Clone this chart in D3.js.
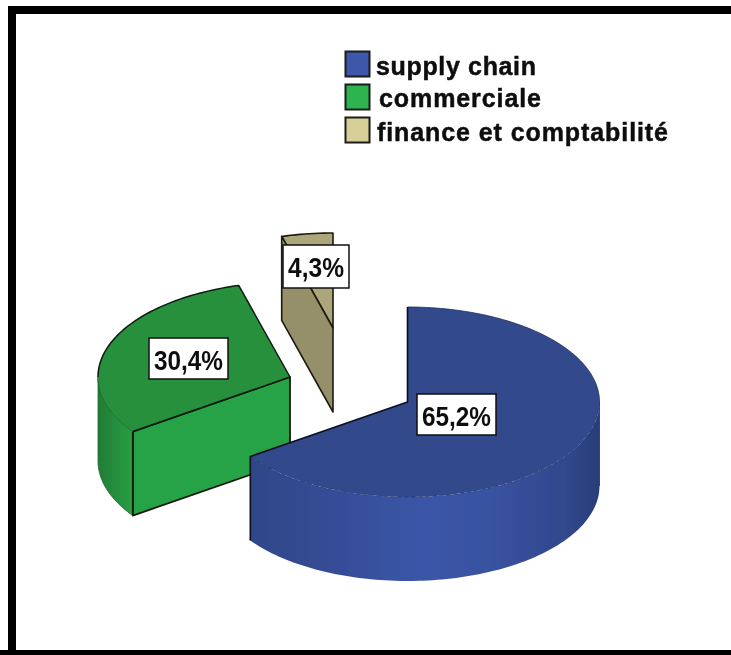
<!DOCTYPE html>
<html><head><meta charset="utf-8">
<script src="https://cdn.jsdelivr.net/npm/d3@7"></script>
<style>html,body{margin:0;padding:0;background:#fff;overflow:hidden}svg{display:block}</style>
</head><body><svg id="c" width="731" height="655"></svg>
<script>
const categories = ["supply chain", "commerciale", "finance et comptabilité"];
const values = [65.2, 30.4, 4.3];
const labels = ["65,2%", "30,4%", "4,3%"];

const topColors = ["#32498c", "#27903d", "#aca67a"];
const wallColors = ["#3a55a5", "#28a246", "#96906b"];
const swatchColors = ["#3d59ab", "#2eb44f", "#d6cf97"];

const RX = 192, RY = 95, DEPTH = 84;
const centers = [[407.5, 402], [290, 377], [333, 328]];
const labelBoxes = [[417, 394, 79, 41], [149, 338, 79, 41], [283, 245, 66, 43]];
const legendY = [51, 84, 117];
const legendBase = [75, 107, 141];
const legendTextX = [376, 379, 377];
const legendLen = [160, 162, 291];

const svg = d3.select("#c");
const defs = svg.append("defs");
const blur = defs.append("filter").attr("id", "soft")
  .attr("x", "-5%").attr("y", "-5%").attr("width", "110%").attr("height", "110%");
blur.append("feGaussianBlur").attr("stdDeviation", 0.45);

function grad(id, x1, x2, stops) {
  const g = defs.append("linearGradient").attr("id", id)
    .attr("gradientUnits", "userSpaceOnUse")
    .attr("x1", x1).attr("x2", x2).attr("y1", 0).attr("y2", 0);
  stops.forEach(s => g.append("stop").attr("offset", s[0]).attr("stop-color", s[1]));
}
grad("wall0", 251, 600, [[0, "#2f4689"], [0.12, "#33498f"], [0.5, "#3b56a8"], [0.72, "#38519e"], [0.9, "#31488c"], [1, "#293d78"]]);
grad("wall1", 98, 134, [[0, "#1f7c35"], [0.6, "#27923f"], [1, "#2a9f45"]]);

const root = svg.append("g").attr("filter", "url(#soft)");

// frame
root.append("path").attr("fill", "none").attr("stroke", "#000").attr("stroke-width", 8)
  .attr("d", "M12,660V10H740M0,654H740");

const pie = d3.pie().sort(null).startAngle(0).endAngle(2 * Math.PI);
const arcs = pie(values);
const sx = d3.scaleLinear().domain([-1, 1]).range([-RX, RX]);
const sy = d3.scaleLinear().domain([-1, 1]).range([-RY, RY]);

function pt(i, a, dz = 0) {
  const c = centers[i];
  return [c[0] + sx(Math.sin(a)), c[1] - sy(Math.cos(a)) + dz];
}
function arcPts(i, a0, a1, dz = 0) {
  const n = Math.max(2, Math.ceil(Math.abs(a1 - a0) * 40));
  return d3.range(n + 1).map(k => pt(i, a0 + (a1 - a0) * k / n, dz));
}
const line = d3.line();
const poly = pts => line(pts) + "Z";

const HALF_R = Math.PI / 2, HALF_L = 3 * Math.PI / 2;
function wall(i, d) {
  const a0 = Math.max(d.startAngle, HALF_R), a1 = Math.min(d.endAngle, HALF_L);
  if (a1 <= a0) return null;
  return poly(arcPts(i, a0, a1).concat(arcPts(i, a1, a0, DEPTH)));
}
function topFace(i, d) {
  return poly([centers[i]].concat(arcPts(i, d.startAngle, d.endAngle)));
}
function cutFace(i, a) {
  const c = centers[i], p = pt(i, a);
  return poly([c, p, [p[0], p[1] + DEPTH], [c[0], c[1] + DEPTH]]);
}

const EDGE = "#101a10";
(function () {
  const i = 2, d = arcs[i];
  root.append("path").attr("d", topFace(i, d)).attr("fill", topColors[i])
    .attr("stroke", "#1c1a10").attr("stroke-width", 1.6).attr("stroke-linejoin", "round");
  root.append("path").attr("d", cutFace(i, d.startAngle)).attr("fill", wallColors[i])
    .attr("stroke", "#1c1a10").attr("stroke-width", 1.6).attr("stroke-linejoin", "round");
})();

(function () {
  const i = 1, d = arcs[i];
  root.append("path").attr("d", cutFace(i, d.startAngle)).attr("fill", wallColors[i])
    .attr("stroke", EDGE).attr("stroke-width", 1.8).attr("stroke-linejoin", "round");
  root.append("path").attr("d", wall(i, d)).attr("fill", "url(#wall1)")
    .attr("stroke", "#1c6a30").attr("stroke-width", 0.8);
  const p = pt(i, d.startAngle);
  root.append("path").attr("d", line([p, [p[0], p[1] + DEPTH]]))
    .attr("stroke", "#0c1a10").attr("stroke-width", 1.8).attr("fill", "none");
  root.append("path").attr("d", topFace(i, d)).attr("fill", topColors[i])
    .attr("stroke", "none");
  root.append("path")
    .attr("d", line(arcPts(i, d.startAngle, HALF_L)))
    .attr("fill", "none").attr("stroke", "#1a6a30").attr("stroke-width", 0.8);
  root.append("path")
    .attr("d", line(arcPts(i, HALF_L, d.endAngle).concat([centers[i], pt(i, d.startAngle)])))
    .attr("fill", "none").attr("stroke", EDGE).attr("stroke-width", 1.5).attr("stroke-linejoin", "round");
})();

(function () {
  const i = 0, d = arcs[i];
  root.append("path").attr("d", wall(i, d)).attr("fill", "url(#wall0)").attr("stroke", "none");
  root.append("path").attr("d", topFace(i, d)).attr("fill", topColors[i]).attr("stroke", "none");
  root.append("path").attr("d", line(arcPts(i, HALF_R, d.endAngle)))
    .attr("fill", "none").attr("stroke", "#1c2c60").attr("stroke-width", 0.7)
    .attr("stroke-dasharray", "4 3").attr("stroke-opacity", 0.7);
  root.append("path").attr("d", line(arcPts(i, 0, HALF_R)))
    .attr("fill", "none").attr("stroke", "#1c2c60").attr("stroke-width", 0.8);
  const p = pt(i, d.endAngle);
  root.append("path").attr("d", line([pt(i, 0), centers[i], p, [p[0], p[1] + DEPTH]]))
    .attr("fill", "none").attr("stroke", "#0a1020").attr("stroke-width", 1.6).attr("stroke-linejoin", "round");
  const r = pt(i, HALF_R);
  root.append("path").attr("d", line([r, [r[0], r[1] + DEPTH]]))
    .attr("fill", "none").attr("stroke", "#1f2f66").attr("stroke-width", 0.8);
})();

labels.forEach((t, i) => {
  const b = labelBoxes[i];
  root.append("rect").attr("x", b[0]).attr("y", b[1]).attr("width", b[2]).attr("height", b[3])
    .attr("fill", "#fff").attr("stroke", "#111").attr("stroke-width", 1.5);
  root.append("text").text(t)
    .attr("x", b[0] + 5).attr("y", b[1] + 32)
    .attr("textLength", b[2] - 10).attr("lengthAdjust", "spacingAndGlyphs")
    .attr("font-family", "'Liberation Sans', Arial, sans-serif")
    .attr("font-weight", "bold").attr("font-size", 28).attr("fill", "#111");
});

categories.forEach((t, i) => {
  root.append("rect").attr("x", 345.5).attr("y", legendY[i] + 0.5).attr("width", 24).attr("height", 25)
    .attr("fill", swatchColors[i]).attr("stroke", "#1a1a1a").attr("stroke-width", 2);
  root.append("text").text(t)
    .attr("x", legendTextX[i]).attr("y", legendBase[i])
    .attr("textLength", legendLen[i]).attr("lengthAdjust", "spacing")
    .attr("font-family", "'Liberation Sans', Arial, sans-serif")
    .attr("font-weight", "bold").attr("font-size", 25)
    .attr("fill", "#111").attr("stroke", "#111").attr("stroke-width", 0.5);
});
</script></body></html>
